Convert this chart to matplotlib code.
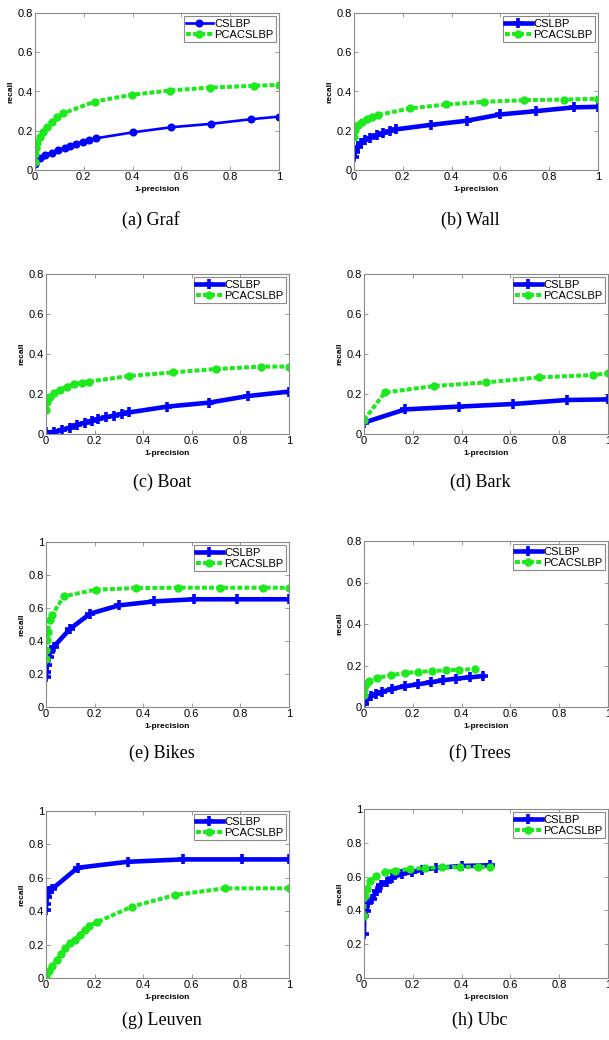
import matplotlib
matplotlib.use('Agg')
import matplotlib.pyplot as plt
from matplotlib.ticker import FuncFormatter, MultipleLocator

# ---------------- data ----------------
series_labels = ['CSLBP', 'PCACSLBP']

graf_cs_x = [0, 0.0, 0.02, 0.04, 0.068, 0.095, 0.123, 0.143, 0.17, 0.195, 0.222, 0.252, 0.402, 0.559, 0.72, 0.887, 1.0]
graf_cs_y = [0.03, 0.045, 0.06, 0.077, 0.089, 0.102, 0.114, 0.124, 0.133, 0.145, 0.153, 0.162, 0.192, 0.218, 0.235, 0.259, 0.272]
graf_pca_x = [0, 0, 0.004, 0.01, 0.02, 0.034, 0.048, 0.068, 0.089, 0.116, 0.245, 0.396, 0.553, 0.716, 0.896, 1.0]
graf_pca_y = [0.04, 0.08, 0.11, 0.14, 0.17, 0.196, 0.22, 0.247, 0.269, 0.289, 0.349, 0.383, 0.405, 0.42, 0.429, 0.434]

wall_cs_x = [0, 0.004, 0.015, 0.029, 0.045, 0.066, 0.093, 0.12, 0.148, 0.171, 0.315, 0.462, 0.6, 0.746, 0.9, 1.0]
wall_cs_y = [0.068, 0.093, 0.119, 0.139, 0.153, 0.164, 0.178, 0.186, 0.2, 0.207, 0.23, 0.251, 0.283, 0.3, 0.319, 0.322]
wall_pca_x = [0, 0.004, 0.015, 0.031, 0.052, 0.073, 0.097, 0.23, 0.378, 0.531, 0.695, 0.859, 1.0]
wall_pca_y = [0.17, 0.203, 0.229, 0.246, 0.259, 0.268, 0.28, 0.314, 0.334, 0.347, 0.356, 0.359, 0.363]

boat_cs_x = [0, 0.031, 0.066, 0.097, 0.127, 0.161, 0.189, 0.216, 0.248, 0.278, 0.312, 0.343, 0.499, 0.672, 0.832, 1.0]
boat_cs_y = [0.008, 0.01, 0.02, 0.032, 0.045, 0.057, 0.067, 0.075, 0.083, 0.092, 0.1, 0.108, 0.137, 0.157, 0.19, 0.212]
boat_pca_x = [0, 0.004, 0.018, 0.031, 0.056, 0.086, 0.114, 0.148, 0.175, 0.343, 0.521, 0.701, 0.886, 1.0]
boat_pca_y = [0.12, 0.162, 0.187, 0.203, 0.22, 0.237, 0.248, 0.257, 0.262, 0.29, 0.308, 0.325, 0.337, 0.337]

bark_cs_x = [0, 0.168, 0.39, 0.611, 0.83, 1.0]
bark_cs_y = [0.057, 0.123, 0.137, 0.15, 0.17, 0.173]
bark_pca_x = [0, 0.086, 0.288, 0.502, 0.716, 0.94, 1.0]
bark_pca_y = [0.07, 0.208, 0.24, 0.258, 0.283, 0.295, 0.303]

bikes_cs_x = [0, 0, 0.004, 0.011, 0.018, 0.031, 0.1, 0.182, 0.301, 0.446, 0.61, 0.784, 1.0]
bikes_cs_y = [0.182, 0.212, 0.253, 0.303, 0.333, 0.364, 0.475, 0.566, 0.616, 0.64, 0.653, 0.653, 0.653]
bikes_pca_x = [0, 0, 0.004, 0.008, 0.015, 0.025, 0.073, 0.205, 0.371, 0.544, 0.715, 0.893, 1.0]
bikes_pca_y = [0.293, 0.343, 0.404, 0.455, 0.525, 0.556, 0.671, 0.711, 0.721, 0.723, 0.723, 0.723, 0.723]

trees_cs_x = [0, 0.011, 0.029, 0.048, 0.072, 0.116, 0.168, 0.22, 0.273, 0.325, 0.379, 0.434, 0.488]
trees_cs_y = [0.016, 0.037, 0.053, 0.064, 0.072, 0.088, 0.1, 0.109, 0.119, 0.129, 0.137, 0.143, 0.149]
trees_pca_x = [0, 0.001, 0.008, 0.02, 0.052, 0.11, 0.168, 0.222, 0.277, 0.336, 0.389, 0.454]
trees_pca_y = [0.056, 0.088, 0.112, 0.125, 0.14, 0.153, 0.164, 0.169, 0.173, 0.177, 0.18, 0.182]

leuven_cs_x = [0, 0, 0.004, 0.014, 0.025, 0.13, 0.337, 0.562, 0.807, 1.0]
leuven_cs_y = [0.41, 0.443, 0.487, 0.521, 0.533, 0.66, 0.696, 0.71, 0.71, 0.71]
leuven_pca_x = [0, 0.011, 0.025, 0.045, 0.063, 0.079, 0.097, 0.12, 0.138, 0.161, 0.179, 0.209, 0.353, 0.531, 0.736, 1.0]
leuven_pca_y = [0.004, 0.04, 0.07, 0.109, 0.143, 0.179, 0.209, 0.229, 0.258, 0.288, 0.314, 0.334, 0.427, 0.497, 0.537, 0.537]

ubc_cs_x = [0, 0.001, 0.008, 0.018, 0.031, 0.052, 0.07, 0.093, 0.116, 0.154, 0.198, 0.239, 0.297, 0.4, 0.516]
ubc_cs_y = [0.259, 0.367, 0.396, 0.445, 0.465, 0.514, 0.553, 0.569, 0.592, 0.616, 0.627, 0.641, 0.651, 0.663, 0.667]
ubc_pca_x = [0, 0.004, 0.011, 0.025, 0.048, 0.086, 0.127, 0.188, 0.25, 0.318, 0.393, 0.468, 0.516]
ubc_pca_y = [0.367, 0.484, 0.524, 0.573, 0.602, 0.627, 0.635, 0.645, 0.651, 0.655, 0.657, 0.657, 0.657]

captions = ['(a) Graf', '(b) Wall', '(c) Boat', '(d) Bark', '(e) Bikes', '(f) Trees', '(g) Leuven', '(h) Ubc']
ymaxes = [0.8, 0.8, 0.8, 0.8, 1.0, 0.8, 1.0, 1.0]

datasets = [
    (graf_cs_x, graf_cs_y, graf_pca_x, graf_pca_y),
    (wall_cs_x, wall_cs_y, wall_pca_x, wall_pca_y),
    (boat_cs_x, boat_cs_y, boat_pca_x, boat_pca_y),
    (bark_cs_x, bark_cs_y, bark_pca_x, bark_pca_y),
    (bikes_cs_x, bikes_cs_y, bikes_pca_x, bikes_pca_y),
    (trees_cs_x, trees_cs_y, trees_pca_x, trees_pca_y),
    (leuven_cs_x, leuven_cs_y, leuven_pca_x, leuven_pca_y),
    (ubc_cs_x, ubc_cs_y, ubc_pca_x, ubc_pca_y),
]

# ---------------- layout (pixels) ----------------
W, H = 609, 1040
axes_px = [  # x0, x1, y_top, y_bottom
    (35, 279, 13, 170), (354, 598, 13, 170),
    (46, 289, 274, 434), (364, 608, 274, 434),
    (46, 289, 542, 707), (364, 608, 541, 707),
    (46, 289, 811, 978), (364, 608, 809, 978),
]
caption_px = [(151, 220), (470, 220), (162, 482), (480, 482),
              (162, 753), (480, 753), (162, 1020), (480, 1020)]

BLUE = '#0000ff'
GREEN = '#1ee81e'
SPINE = '#8a8a8a'

plt.rcParams['font.family'] = ['Liberation Sans', 'DejaVu Sans']
plt.rcParams['lines.scale_dashes'] = False

fig = plt.figure(figsize=(W / 100, H / 100), dpi=100)

fmt = FuncFormatter(lambda v, p: f'{v:g}')

for i, (cx, cy, px, py) in enumerate(datasets):
    x0, x1, yt, yb = axes_px[i]
    ax = fig.add_axes([x0 / W, 1 - yb / H, (x1 - x0) / W, (yb - yt) / H])
    if i == 0:
        ax.plot(cx, cy, color=BLUE, lw=1.9, marker='o', ms=4.8, mec=BLUE, mfc=BLUE,
                label=series_labels[0])
    else:
        ax.plot(cx, cy, color=BLUE, lw=3.3, marker='+', ms=6.5, mew=2.6, mec=BLUE,
                label=series_labels[0])
    ax.plot(px, py, color=GREEN, lw=2.9, ls=(0, (3.5, 1.6)), marker='o', ms=5,
            mec=GREEN, mfc=GREEN, label=series_labels[1])
    ax.set_xlim(0, 1)
    ax.set_ylim(0, ymaxes[i])
    ax.xaxis.set_major_locator(MultipleLocator(0.2))
    ax.yaxis.set_major_locator(MultipleLocator(0.2))
    ax.xaxis.set_major_formatter(fmt)
    ax.yaxis.set_major_formatter(fmt)
    ax.tick_params(direction='in', top=True, right=True, length=3, width=0.6,
                   color=SPINE, labelsize=8, pad=1.5)
    for s in ax.spines.values():
        s.set_color(SPINE)
        s.set_linewidth(0.8)
    ax.set_xlabel('1-precision', fontsize=6, fontweight='bold', labelpad=2.5)
    ax.set_ylabel('recall', fontsize=6, fontweight='bold', labelpad=2)
    leg = ax.legend(loc='upper right', fontsize=8, numpoints=1, fancybox=False,
                    edgecolor=SPINE, framealpha=1, borderaxespad=0.3,
                    handlelength=2.4, handletextpad=0.15, borderpad=0.2,
                    labelspacing=0.1)
    leg.get_frame().set_linewidth(0.8)
    cxp, cyp = caption_px[i]
    fig.text(cxp / W, 1 - cyp / H, captions[i], ha='center', va='center',
             family=['Liberation Serif', 'DejaVu Serif'], fontsize=13)

fig.savefig('out.png', dpi=100)
